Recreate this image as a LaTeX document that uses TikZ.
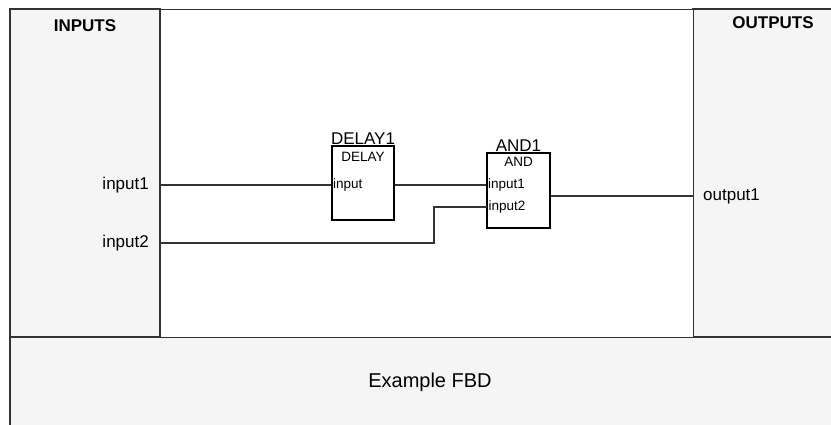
\documentclass[tikz,border=0pt]{standalone}
\usepackage{fontspec}
\setmainfont{Liberation Sans}
\definecolor{panelgray}{HTML}{F5F5F5}
\definecolor{edge}{HTML}{333333}
\tikzset{
  panel/.style={draw=edge, line width=1.5pt, fill=panelgray},
  midpanel/.style={draw=edge, line width=1pt, fill=white},
  fbblock/.style={draw=black, line width=1.2pt, fill=white, inner sep=0pt},
  wire/.style={draw=edge, line width=1.1pt},
  big/.style={font=\fontsize{17pt}{19pt}\selectfont, inner sep=0pt},
  small/.style={font=\fontsize{13.5pt}{15pt}\selectfont, inner sep=0pt},
}
\begin{document}
\begin{tikzpicture}[x=1pt,y=-1pt]
\useasboundingbox (0,0) rectangle (831,424);
\clip (0,0) rectangle (831,424);
% panels
\path[panel] (10,337) rectangle (840,440);
\path[panel] (10,9) rectangle (160,337);
\path[panel] (693,9) rectangle (840,337);
\path[midpanel] (160,9) rectangle (693,337);
\node[big, font=\fontsize{17pt}{19pt}\selectfont\bfseries] (inputs) at (85,26) {INPUTS};
\node[big, font=\fontsize{17pt}{19pt}\selectfont\bfseries] (outputs) at (773,23) {OUTPUTS};
\node[inner sep=0pt, font=\fontsize{20pt}{22pt}\selectfont] (title) at (430,382) {Example FBD};
% input / output labels
\node[big, anchor=east] (lin1) at (149,185) {input1};
\node[big, anchor=east] (lin2) at (149,243) {input2};
\node[big, anchor=west] (lout1) at (703,196) {output1};
\coordinate (src1) at (160,185);
\coordinate (src2) at (160,243);
\coordinate (dst1) at (693,196);
% blocks
\node[fbblock, minimum width=62pt, minimum height=74pt] (delay) at (363,183) {};
\node[big, anchor=south] (delayname) at ([yshift=1pt]delay.north) {DELAY1};
\node[small, anchor=north] (delaytype) at ([yshift=-7pt]delay.north) {DELAY};
\coordinate (delayin) at (delay.west |- src1);
\coordinate (delayout) at (delay.east |- src1);
\node[small, anchor=west] (delayinl) at ([xshift=1.5pt]delayin) {input};
\node[fbblock, minimum width=63pt, minimum height=75pt] (and) at (518.5,190.5) {};
\node[big, anchor=south] (andname) at ([yshift=1pt]and.north) {AND1};
\node[small, anchor=north] (andtype) at ([yshift=-5pt]and.north) {AND};
\coordinate (andin1) at (and.west |- src1);
\coordinate (andin2) at (487,207);
\coordinate (andout) at (and.east |- dst1);
\node[small, anchor=west] (andin1l) at ([xshift=1.5pt]andin1) {input1};
\node[small, anchor=west] (andin2l) at ([xshift=1.5pt]andin2) {input2};
% wires
\draw[wire] (src1) -- (delayin);
\draw[wire] (delayout) -- (andin1);
\draw[wire] (src2) -- (434,243) -- (434,207) -- (andin2);
\draw[wire] (andout) -- (dst1);
\end{tikzpicture}
\end{document}
